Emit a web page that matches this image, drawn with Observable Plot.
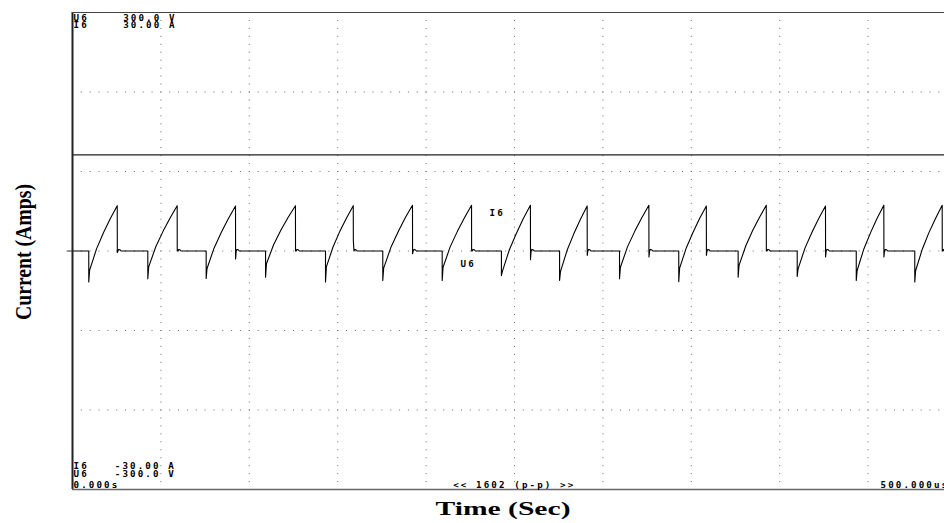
<!DOCTYPE html>
<html><head><meta charset="utf-8">
<script src="https://cdn.jsdelivr.net/npm/d3@7"></script>
<script src="https://cdn.jsdelivr.net/npm/@observablehq/plot@0.6"></script>
<style>html,body{margin:0;padding:0;background:#fff}#chart svg{display:block}</style>
</head><body><div id="chart"></div>
<script>
// ---- data (time in µs, current in A, voltage in V) ----
const dropTime    = [9.2, 42.6, 75.6, 109.2, 143.1, 175.5, 209.1, 242.6, 275.5, 309.4, 342.9, 376.5, 409.9, 443.3, 476.4];
const spikeMin    = [-3.9, -3.5, -3.45, -3.3, -3.9, -3.7, -3.7, -3.1, -3.7, -3.5, -3.85, -3.3, -3.2, -3.7, -3.9];
const rampStart   = [-2.4, -2.0, -2.2, -1.6, -2.0, -2.15, -2.05, -2.6, -2.6, -2.05, -2.15, -1.8, -2.25, -2.45, -2.45];
const rampMidTime = [[13.6,17.5,21.4],[47.1,51.2,55.2],[80.1,84.2,88.2],[113.8,117.9,122.0],[147.4,151.2,155.0],
                     [180.1,184.2,188.2],[213.6,217.7,221.7],[247.1,251.1,255.0],[279.8,283.6,287.3],[313.9,318.0,322.0],
                     [347.2,351.0,354.7],[380.9,384.7,388.6],[414.3,418.2,422.0],[447.6,451.4,455.1],[480.7,484.4,488.2]];
const rampMidCur  = [[0.27,2.3,4.08],[0.54,2.47,4.16],[0.39,2.35,4.08],[0.81,2.63,4.24],[0.54,2.47,4.16],
                     [0.46,2.43,4.17],[0.52,2.47,4.19],[0.16,2.24,4.08],[0.12,2.19,4.0],[0.52,2.47,4.19],
                     [0.42,2.37,4.09],[0.69,2.58,4.24],[0.36,2.33,4.07],[0.26,2.31,4.11],[0.26,2.31,4.11]];
const peakTime    = [25.3, 59.2, 92.2, 126.1, 158.8, 192.3, 225.7, 259.0, 291.1, 326.0, 358.5, 392.4, 425.9, 458.9, 491.9];
const peakCurrent = [5.7, 5.7, 5.65, 5.7, 5.7, 5.75, 5.75, 5.75, 5.65, 5.75, 5.65, 5.75, 5.65, 5.75, 5.75];
const afterDrop   = [-0.2, 0, -1.0, 0, 1.3, -0.35, 0, -1.1, -0.55, -0.75, -0.55, 0, -0.75, -0.75, 0];
const settleStep  = [[0.4, 0], [0.8, 0.2], [1.6, 0.15], [2.2, 0]]; // [µs after drop, A]
const u6Time      = [0, 500];
const u6Volts     = [121, 121];

const timeGrid    = [50, 100, 150, 200, 250, 300, 350, 400, 450];
const ampGrid     = [-20, -10, 0, 10, 20];

const topNames    = ["U6", "I6"];
const topValues   = ["300.0 V", "30.00 A"];
const botNames    = ["I6", "U6"];
const botValues   = ["-30.00 A", "-300.0 V"];
const startLabel  = "0.000s";
const endLabel    = "500.000us";
const countLabel  = "<< 1602 (p-p) >>";
const traceNames  = ["I6", "U6"];
const xTitle      = "Time (Sec)";
const yTitle      = "Current (Amps)";

// ---- layout ----
const W = 944, H = 523, mL = 72, mT = 12, mB = 34;
const screenW = 884;                      // 10 divisions = 500 µs
const xMax = 500 * (W - mL) / screenW;    // visible part of the screen
const voltsPerAmp = 300 / 30;

// ---- build the current trace ----
const iPts = [{t: 0, i: 0}];
for (let c = 0; c < dropTime.length; c++) {
  const d = dropTime[c], p = peakTime[c];
  iPts.push({t: d, i: 0}, {t: d, i: spikeMin[c]}, {t: d + 0.5, i: rampStart[c]});
  rampMidTime[c].forEach((t, j) => iPts.push({t, i: rampMidCur[c][j]}));
  iPts.push({t: p, i: peakCurrent[c]}, {t: p + 0.05, i: afterDrop[c]});
  settleStep.forEach(([dt, v]) => { if (p + dt < xMax) iPts.push({t: p + dt, i: v}); });
}
iPts.push({t: xMax, i: 0});
const uPts = u6Time.map((t, k) => ({t, v: u6Volts[k] / voltsPerAmp}));

const mono = "DejaVu Sans Mono";
const monoOpts = (dx, dy) => ({text: d => d, frameAnchor: "top-left", dx, dy, textAnchor: "start",
  lineAnchor: "top", fontFamily: mono, fontSize: 9.2, fontWeight: "bold", fill: "#000"});

const chart = Plot.plot({
  width: W, height: H,
  marginLeft: mL, marginRight: 0, marginTop: mT, marginBottom: mB,
  x: {domain: [0, xMax], axis: null},
  y: {domain: [-30, 30], axis: null},
  style: {background: "#fff", overflow: "visible"},
  marks: [
    Plot.ruleX(timeGrid, {x: d => d, y1: 30, y2: -30, stroke: "#6e6e6e", strokeWidth: 1, strokeDasharray: "1 6.95"}),
    Plot.ruleY(ampGrid, {y: d => d, x1: 0, x2: xMax, stroke: "#6e6e6e", strokeWidth: 1, strokeDasharray: "1 7.84"}),
    Plot.ruleY([0], {x1: -3, x2: 0, stroke: "#333", strokeWidth: 1}),
    Plot.line(uPts, {x: "t", y: "v", stroke: "#222", strokeWidth: 1.2, clip: true}),
    Plot.line(iPts, {x: "t", y: "i", stroke: "#000", strokeWidth: 1.1, clip: true}),
    // screen border
    Plot.ruleX([0], {stroke: "#222", strokeWidth: 2}),
    Plot.ruleY([30], {stroke: "#444", strokeWidth: 1}),
    Plot.ruleY([-30], {stroke: "#666", strokeWidth: 1.6}),
    // on-screen texts
    Plot.text([topNames[0]], monoOpts(1, 1.6)),
    Plot.text([topNames[1]], monoOpts(1, 9.4)),
    Plot.text([topValues[0]], monoOpts(50.7, 1.6)),
    Plot.text([topValues[1]], monoOpts(50.7, 9.4)),
    Plot.text([botNames[0]], monoOpts(1, 450)),
    Plot.text([botNames[1]], monoOpts(1, 458.3)),
    Plot.text([botValues[0]], monoOpts(42.3, 450)),
    Plot.text([botValues[1]], monoOpts(42.3, 458.3)),
    Plot.text([startLabel], monoOpts(1, 469)),
    Plot.text([countLabel], monoOpts(380.7, 469)),
    Plot.text([endLabel], monoOpts(808, 469)),
    Plot.text([traceNames[0]], monoOpts(417, 197.4)),
    Plot.text([traceNames[1]], monoOpts(388, 248.4)),
    // axis titles
    Plot.text([xTitle], {text: d => d, frameAnchor: "bottom", textAnchor: "middle", dx: -5.5, dy: 25.5,
      fontFamily: "Liberation Serif", fontWeight: "bold", fontSize: 19, fill: "#000"}),
    Plot.text([yTitle], {text: d => d, frameAnchor: "left", textAnchor: "middle", dx: -48.4, dy: 1, rotate: -90,
      fontFamily: "Liberation Serif", fontWeight: "bold", fontSize: 23, fill: "#000"})
  ]
});
document.getElementById("chart").appendChild(chart);
const svg = d3.select(chart);
svg.selectAll("g").filter(function () { return this.getAttribute("font-family") === mono; })
  .attr("letter-spacing", 2.1);
svg.selectAll("text").filter(function () { return this.textContent === xTitle; })
  .attr("textLength", 135).attr("lengthAdjust", "spacingAndGlyphs");
svg.selectAll("text").filter(function () { return this.textContent === yTitle; })
  .attr("textLength", 136).attr("lengthAdjust", "spacingAndGlyphs");
</script>
</body></html>
